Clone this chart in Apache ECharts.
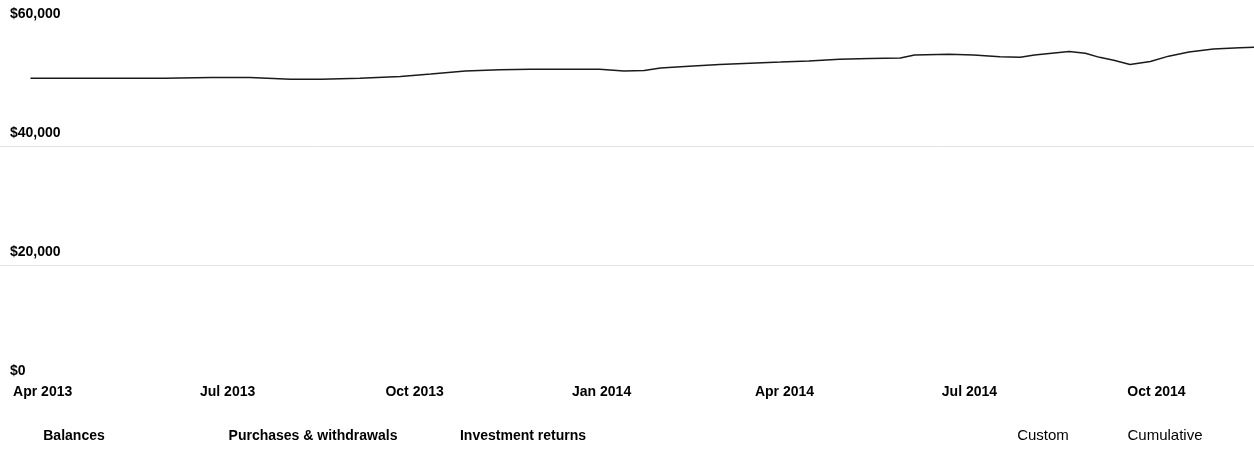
<!DOCTYPE html>
<html>
<head>
<meta charset="utf-8">
<script src="https://cdn.jsdelivr.net/npm/echarts@6/dist/echarts.min.js"></script>
<style>
  html, body { margin: 0; padding: 0; background: #fff; }
  #chart { width: 1254px; height: 451px; }
</style>
</head>
<body>
<div id="chart"></div>
<script>
// ---- data ----
const dates = [
  '2013-03-26','2013-04-10','2013-05-09','2013-05-31','2013-06-23','2013-07-12',
  '2013-08-01','2013-08-16','2013-09-04','2013-09-24','2013-10-09','2013-10-26',
  '2013-11-12','2013-11-27','2013-12-12','2013-12-31','2014-01-12','2014-01-22',
  '2014-01-30','2014-02-13','2014-02-28','2014-03-15','2014-03-30','2014-04-13',
  '2014-04-28','2014-05-13','2014-05-28','2014-06-04','2014-06-21','2014-07-03',
  '2014-07-16','2014-07-26','2014-08-02','2014-08-19','2014-08-27','2014-09-03',
  '2014-09-10','2014-09-18','2014-09-28','2014-10-07','2014-10-17','2014-10-29',
  '2014-11-11','2014-11-18'
];
const balances = [
  51400, 51400, 51400, 51400, 51500, 51500,
  51200, 51200, 51400, 51700, 52100, 52600,
  52800, 52900, 52900, 52900, 52600, 52700,
  53100, 53400, 53700, 53900, 54100, 54300,
  54600, 54700, 54800, 55300, 55400, 55300,
  55000, 54900, 55300, 55900, 55600, 54900,
  54400, 53700, 54200, 55100, 55800, 56300,
  56500, 56600
];
const xTickDates = ['2013-04-01','2013-07-01','2013-10-01','2014-01-01','2014-04-01','2014-07-01','2014-10-01'];
const monthNames = ['Jan','Feb','Mar','Apr','May','Jun','Jul','Aug','Sep','Oct','Nov','Dec'];
const yMin = 0, yMax = 60000, yStep = 20000;
const xStart = '2013-03-11', xEnd = '2014-11-18';
const tabLabels = ['Balances', 'Purchases & withdrawals', 'Investment returns', 'Custom', 'Cumulative'];
const tabX = [74, 313, 523, 1043, 1165];
const tabBold = [true, true, true, false, false];

function parseLocal(s) {
  const p = s.split('-').map(Number);
  return new Date(p[0], p[1] - 1, p[2]).getTime();
}

const chart = echarts.init(document.getElementById('chart'), null, { renderer: 'canvas' });

const option = {
  animation: false,
  backgroundColor: '#ffffff',
  grid: { left: 0, right: 0, top: 27, bottom: 67, containLabel: false },
  xAxis: {
    type: 'value',
    min: parseLocal(xStart),
    max: parseLocal(xEnd),
    axisLine: { show: false },
    axisTick: { show: false },
    splitLine: { show: false },
    axisLabel: {
      customValues: xTickDates.map(parseLocal),
      formatter: function (v) {
        const d = new Date(v);
        return monthNames[d.getMonth()] + ' ' + d.getFullYear();
      },
      margin: 1,
      color: '#000',
      fontFamily: 'Liberation Sans, Arial, sans-serif',
      fontWeight: 'bold',
      fontSize: 14,
      verticalAlign: 'top',
      hideOverlap: false
    }
  },
  yAxis: {
    type: 'value',
    min: yMin,
    max: yMax,
    interval: yStep,
    axisLine: { show: false },
    axisTick: { show: false },
    splitLine: {
      show: true,
      showMinLine: false,
      showMaxLine: false,
      lineStyle: { color: '#e2e2e2', width: 1 }
    },
    axisLabel: {
      inside: true,
      margin: 10,
      align: 'left',
      verticalAlign: 'bottom',
      padding: [0, 0, 6, 0],
      color: '#000',
      fontFamily: 'Liberation Sans, Arial, sans-serif',
      fontWeight: 'bold',
      fontSize: 14,
      formatter: function (v) {
        return '$' + v.toLocaleString('en-US');
      }
    }
  },
  series: [{
    type: 'line',
    data: dates.map((d, i) => [parseLocal(d), balances[i]]),
    showSymbol: false,
    smooth: false,
    lineStyle: { color: '#1a1a1a', width: 1.5 },
    z: 3
  }],
  graphic: tabLabels.map((t, i) => ({
    type: 'text',
    x: tabX[i],
    y: 436,
    style: {
      text: t,
      fill: '#000',
      font: (tabBold[i] ? 'bold 14px ' : '15px ') + '"Liberation Sans", Arial, sans-serif',
      textAlign: 'center',
      textVerticalAlign: 'middle'
    }
  }))
};

chart.setOption(option);
</script>
</body>
</html>
